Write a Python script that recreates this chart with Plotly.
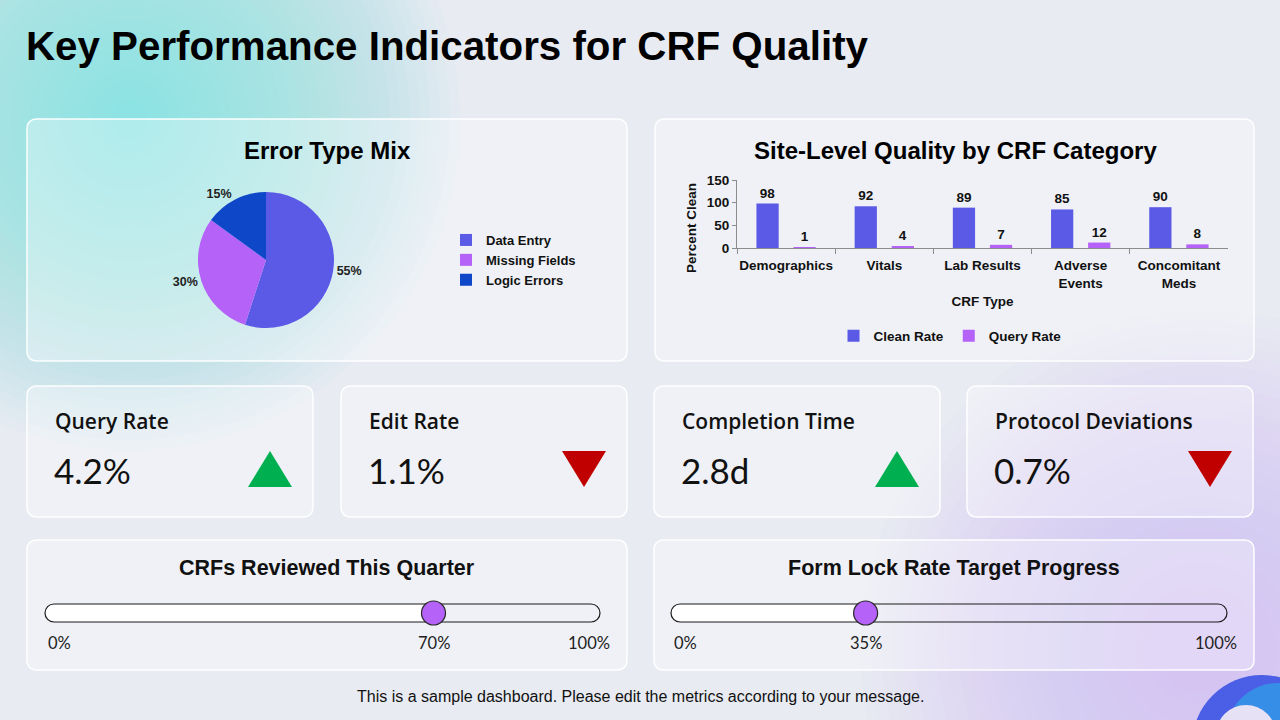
import plotly.graph_objects as go

W, H = 1280, 720

# ---------------- data ----------------
error_types = ["Data Entry", "Missing Fields", "Logic Errors"]
error_share = [55, 30, 15]

crf_categories = ["Demographics", "Vitals", "Lab Results", "Adverse<br>Events", "Concomitant<br>Meds"]
clean_rate = [98, 92, 89, 85, 90]
query_rate = [1, 4, 7, 12, 8]
y_ticks = [0, 50, 100, 150]

kpi_names = ["Query Rate", "Edit Rate", "Completion Time", "Protocol Deviations"]
kpi_values = ["4.2%", "1.1%", "2.8d", "0.7%"]
kpi_trend = ["up", "down", "up", "down"]

progress_names = ["CRFs Reviewed This Quarter", "Form Lock Rate Target Progress"]
progress_values = [70, 35]

# ---------------- style ----------------
ARIAL = "Liberation Sans, Arial, sans-serif"
LATO = "Lato, Carlito, sans-serif"
OPEN = "Open Sans, Lato, sans-serif"
C_BLUE = "#5a5ae6"
C_PURPLE = "#b462f7"
C_NAVY = "#0f47c9"
C_GREEN = "#00b050"
C_RED = "#c00000"
BG = "#e8ebf2"


def X(px):
    return px / W


def Y(py):
    return 1 - py / H


K = 0.5523


def rr_path(x0, y0, x1, y1, r):
    """Rounded rectangle in pixel space (y down) -> paper path."""
    def p(x, y):
        return f"{X(x):.5f},{Y(y):.5f}"

    d = f"M{p(x0 + r, y0)} L{p(x1 - r, y0)} "
    d += f"C{p(x1 - r + K * r, y0)} {p(x1, y0 + r - K * r)} {p(x1, y0 + r)} "
    d += f"L{p(x1, y1 - r)} "
    d += f"C{p(x1, y1 - r + K * r)} {p(x1 - r + K * r, y1)} {p(x1 - r, y1)} "
    d += f"L{p(x0 + r, y1)} "
    d += f"C{p(x0 + r - K * r, y1)} {p(x0, y1 - r + K * r)} {p(x0, y1 - r)} "
    d += f"L{p(x0, y0 + r)} "
    d += f"C{p(x0, y0 + r - K * r)} {p(x0 + r - K * r, y0)} {p(x0 + r, y0)} Z"
    return d


def circle(cx, cy, r, color):
    return dict(type="circle", xref="paper", yref="paper", layer="below",
                x0=X(cx - r), x1=X(cx + r), y0=Y(cy + r), y1=Y(cy - r),
                fillcolor=color, line=dict(width=0))


shapes = []
# background glows (soft radial gradients)
for i in range(32):
    r = 330 - i * 10
    shapes.append(circle(130, 120, r, "rgba(120,214,228,0.035)"))
for i in range(28):
    r = 340 - i * 11
    shapes.append(circle(1200, 650, r, "rgba(205,175,248,0.025)"))
# decorative ring bottom-right
shapes.append(circle(1262, 745, 70, "#4a5fe6"))
shapes.append(circle(1278, 735, 52, "rgba(40,180,230,0.55)"))
shapes.append(circle(1246, 735, 30, "#e7e1f6"))

# cards
cards = [
    (27, 119, 627, 361), (655, 119, 1254, 361),
    (27, 386, 313, 517), (341, 386, 627, 517), (654, 386, 940, 517), (967, 386, 1253, 517),
    (27, 540, 627, 670), (654, 540, 1254, 670),
]
for (a, b, c, d) in cards:
    shapes.append(dict(type="path", xref="paper", yref="paper", layer="below",
                       path=rr_path(a, b, c, d, 9),
                       fillcolor="rgba(255,255,255,0.32)",
                       line=dict(color="rgba(255,255,255,0.95)", width=1.5)))

annotations = []


def text(x, y, s, size, family=ARIAL, color="#000", xanchor="center", weight="normal", **kw):
    annotations.append(dict(x=x, y=y, xref=kw.pop("xref", "paper"), yref="paper", text=s,
                            showarrow=False, xanchor=xanchor, yanchor="middle",
                            font=dict(size=size, family=family, color=color, weight=weight), **kw))


# title
text(X(24), Y(47), "Key Performance Indicators for CRF Quality", 40.3, xanchor="left", weight="bold")
# chart titles
text(X(327), Y(150), "Error Type Mix", 24, weight="bold")
text(X(955), Y(150), "Site-Level Quality by CRF Category", 24, weight="bold")
# bar chart y-axis title
text(X(691), Y(228), "Percent Clean", 13.5, weight="bold", color="#111", textangle=-90)

# KPI cards
kpi_x0 = [27, 341, 654, 967]
for i, name in enumerate(kpi_names):
    x0 = kpi_x0[i]
    text(X(x0 + 26), Y(421), name, 21, family=OPEN, xanchor="left", weight=600, color="#111")
    text(X(x0 + 25), Y(470), kpi_values[i], 35, family=LATO, xanchor="left", color="#111")
    cx, cy = x0 + 243, 469
    if kpi_trend[i] == "up":
        pts = [(cx - 22, cy + 18), (cx + 22, cy + 18), (cx, cy - 18)]
        col = C_GREEN
    else:
        pts = [(cx - 22, cy - 18), (cx + 22, cy - 18), (cx, cy + 18)]
        col = C_RED
    path = "M" + " L".join(f"{X(px):.5f},{Y(py):.5f}" for px, py in pts) + " Z"
    shapes.append(dict(type="path", xref="paper", yref="paper", layer="below", path=path,
                       fillcolor=col, line=dict(width=0)))

# progress sliders
track_px = [(45, 600), (671, 1227)]
card_cx = [327, 954]
TRACK_Y, TRACK_H = 613, 18
for i, name in enumerate(progress_names):
    ax = f"x{i + 2}"
    a0, a1 = track_px[i]
    v = progress_values[i]
    text(X(card_cx[i]), Y(568), name, 21.5, weight="bold", color="#111")
    knob_px = a0 + v / 100 * (a1 - a0)
    # white filled part up to the knob
    shapes.append(dict(type="path", xref="paper", yref="paper", layer="below",
                       path=rr_path(a0, TRACK_Y - TRACK_H / 2, knob_px + 9, TRACK_Y + TRACK_H / 2, TRACK_H / 2),
                       fillcolor="#ffffff", line=dict(width=0)))
    # outline
    shapes.append(dict(type="path", xref="paper", yref="paper", layer="below",
                       path=rr_path(a0, TRACK_Y - TRACK_H / 2, a1, TRACK_Y + TRACK_H / 2, TRACK_H / 2),
                       fillcolor="rgba(0,0,0,0)", line=dict(color="#1a1a1a", width=1.2)))
    text(0, Y(643), "0%", 16.5, family=LATO, xanchor="left", color="#222", xref=ax, xshift=1)
    text(v, Y(643), f"{v}%", 16.5, family=LATO, color="#222", xref=ax)
    text(100, Y(643), "100%", 16.5, family=LATO, xanchor="right", color="#222", xref=ax, xshift=12)

# footer
text(X(640), Y(696), "This is a sample dashboard. Please edit the metrics according to your message.", 16,
     color="#111")

fig = go.Figure()

# pie
fig.add_trace(go.Pie(
    labels=error_types, values=error_share, sort=False, direction="clockwise", rotation=0,
    marker=dict(colors=[C_BLUE, C_PURPLE, C_NAVY], line=dict(width=0)),
    texttemplate="%{value}%", textposition="outside",
    textfont=dict(family=ARIAL, size=12.5, color="#222", weight="bold"),
    domain=dict(x=[X(156), X(376)], y=[Y(328), Y(192)]),
    legend="legend", hoverinfo="label+percent",
))

# bars
fig.add_trace(go.Bar(
    x=crf_categories, y=clean_rate, name="Clean Rate", marker=dict(color=C_BLUE, line=dict(width=0)),
    text=clean_rate, textposition="outside", cliponaxis=False,
    textfont=dict(family=ARIAL, size=13.5, color="#111", weight="bold"),
    xaxis="x", yaxis="y", legend="legend2",
))
fig.add_trace(go.Bar(
    x=crf_categories, y=query_rate, name="Query Rate", marker=dict(color=C_PURPLE, line=dict(width=0)),
    text=query_rate, textposition="outside", cliponaxis=False,
    textfont=dict(family=ARIAL, size=13.5, color="#111", weight="bold"),
    xaxis="x", yaxis="y", legend="legend2",
))

# slider knobs
for i, v in enumerate(progress_values):
    fig.add_trace(go.Scatter(
        x=[v], y=[0.5], xaxis=f"x{i + 2}", yaxis=f"y{i + 2}", mode="markers",
        marker=dict(size=24, color=C_PURPLE, line=dict(color="#2a2a2a", width=1.2)),
        showlegend=False, cliponaxis=False, hoverinfo="x",
    ))

axis_font = dict(family=ARIAL, size=13.5, color="#111", weight="bold")
hidden = dict(visible=False, showgrid=False, zeroline=False, fixedrange=True, automargin=False)

fig.update_layout(
    width=W, height=H, margin=dict(l=0, r=0, t=0, b=0, autoexpand=False),
    paper_bgcolor=BG, plot_bgcolor="rgba(0,0,0,0)",
    barmode="group", bargap=0.245, bargroupgap=0.4,
    shapes=shapes, annotations=annotations,
    legend=dict(x=X(446), y=Y(260), xanchor="left", yanchor="middle", bgcolor="rgba(0,0,0,0)",
                font=dict(family=ARIAL, size=13, color="#111", weight="bold"), itemwidth=30,
                traceorder="normal"),
    legend2=dict(orientation="h", x=X(950), y=Y(336), xanchor="center", yanchor="middle",
                 bgcolor="rgba(0,0,0,0)", font=dict(family=ARIAL, size=13.5, color="#111", weight="bold"),
                 itemwidth=30),
    xaxis=dict(domain=[X(737), X(1228)], anchor="y", showline=True, linecolor="#8c8c8c", linewidth=1,
               ticks="outside", tickson="boundaries", ticklen=5, tickcolor="#8c8c8c", tickangle=0,
               ticklabelstandoff=5,
               tickfont=axis_font, showgrid=False, fixedrange=True, automargin=False,
               title=dict(text="CRF Type", font=axis_font, standoff=6)),
    yaxis=dict(domain=[Y(248), Y(180)], anchor="x", range=[0, 150], tickvals=y_ticks,
               showline=True, linecolor="#8c8c8c", ticks="outside", ticklen=4, tickcolor="#8c8c8c",
               tickfont=axis_font, showgrid=False, zeroline=False, fixedrange=True, automargin=False),
    xaxis2=dict(domain=[X(track_px[0][0]), X(track_px[0][1])], range=[0, 100], anchor="y2", **hidden),
    yaxis2=dict(domain=[Y(TRACK_Y + 9), Y(TRACK_Y - 9)], range=[0, 1], anchor="x2", **hidden),
    xaxis3=dict(domain=[X(track_px[1][0]), X(track_px[1][1])], range=[0, 100], anchor="y3", **hidden),
    yaxis3=dict(domain=[Y(TRACK_Y + 9), Y(TRACK_Y - 9)], range=[0, 1], anchor="x3", **hidden),
)

fig.write_html("out.html")
